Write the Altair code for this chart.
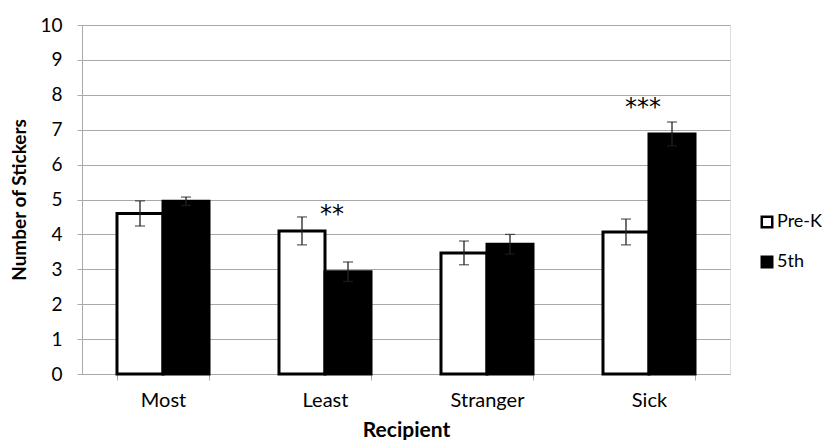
import altair as alt
import pandas as pd

categories = ["Most", "Least", "Stranger", "Sick"]
groups = ["Pre-K", "5th"]
prek = [4.6, 4.1, 3.47, 4.07]
fifth = [4.95, 2.93, 3.72, 6.88]
prek_err = [0.36, 0.40, 0.34, 0.37]
fifth_err = [0.12, 0.28, 0.28, 0.34]
y_ticks = [0, 1, 2, 3, 4, 5, 6, 7, 8, 9, 10]
sig_cats = ["Least", "Sick"]
sig_labels = ["**", "***"]
sig_y = [4.55, 7.63]

rows = []
for i, c in enumerate(categories):
    rows.append({"cat": c, "group": "Pre-K", "v": prek[i],
                 "lo": prek[i] - prek_err[i], "hi": prek[i] + prek_err[i]})
    rows.append({"cat": c, "group": "5th", "v": fifth[i],
                 "lo": fifth[i] - fifth_err[i], "hi": fifth[i] + fifth_err[i]})
df = pd.DataFrame(rows)
sig = pd.DataFrame({"cat": sig_cats, "label": sig_labels, "y": sig_y})

FONT = "Lato"
GRID = "#a9a9a9"

xscale = alt.Scale(domain=categories, paddingInner=0.432, paddingOuter=0.216)
xaxis = alt.Axis(tickBand="extent", labelAngle=0, labelFontSize=20,
                 labelPadding=10, titleFontSize=21, titleFontWeight="bold",
                 titlePadding=9, tickSize=6, tickColor=GRID, grid=False,
                 domainColor=GRID, labelColor="#000", titleColor="#000")
yscale = alt.Scale(domain=[0, 10], nice=False)
yaxis = alt.Axis(values=y_ticks, grid=True, gridColor=GRID,
                 tickColor=GRID, tickSize=5, domainColor=GRID,
                 labelFontSize=19, labelPadding=15, labelColor="#000",
                 titleFontSize=19, titleFontWeight="bold",
                 titlePadding=10, titleColor="#000")
YT = "Number of  Stickers"
x = alt.X("cat:N", scale=xscale, axis=xaxis, title="Recipient")
xo = alt.XOffset("group:N", sort=groups, scale=alt.Scale(domain=groups, paddingInner=0, paddingOuter=0))


def yy(f):
    return alt.Y(f, scale=yscale, axis=yaxis, title=YT)


bars = alt.Chart(df).mark_bar(stroke="black", strokeWidth=3).encode(
    x=x, xOffset=xo, y=yy("v:Q"),
    fill=alt.Fill("group:N", scale=alt.Scale(domain=groups, range=["white", "black"]),
                  legend=alt.Legend(title=None, orient="none", legendX=676, legendY=188,
                                    symbolType="square", symbolSize=110,
                                    symbolStrokeColor="black", symbolStrokeWidth=2.5,
                                    labelFontSize=18, labelFont=FONT, rowPadding=18,
                                    labelOffset=1, labelColor="#000")),
)

err = alt.Chart(df).mark_rule(color="#222", strokeWidth=1.3).encode(
    x=x, xOffset=xo, y=yy("lo:Q"), y2="hi:Q")
cap_hi = alt.Chart(df).mark_tick(color="#222", thickness=1.3, size=10).encode(
    x=x, xOffset=xo, y=yy("hi:Q"))
cap_lo = alt.Chart(df).mark_tick(color="#222", thickness=1.3, size=10).encode(
    x=x, xOffset=xo, y=yy("lo:Q"))

star_base = alt.Chart(sig).encode(x=x, y=yy("y:Q"), text="label:N")
stars1 = star_base.transform_filter(alt.datum.cat == "Least").mark_text(
    fontSize=24, font="DejaVu Sans", baseline="middle", dx=7, color="#000")
stars2 = star_base.transform_filter(alt.datum.cat == "Sick").mark_text(
    fontSize=24, font="DejaVu Sans", baseline="middle", dx=-6, color="#000")

chart = alt.layer(bars, err, cap_hi, cap_lo, stars1, stars2).properties(
    width=648, height=349,
    autosize=alt.AutoSizeParams(type="none"),
    padding={"left": 74, "top": 17, "right": 94, "bottom": 66},
).configure_view(strokeWidth=0, stroke="transparent").configure(font=FONT)

chart.save("out.html", embed_options={"renderer": "svg", "actions": False})
